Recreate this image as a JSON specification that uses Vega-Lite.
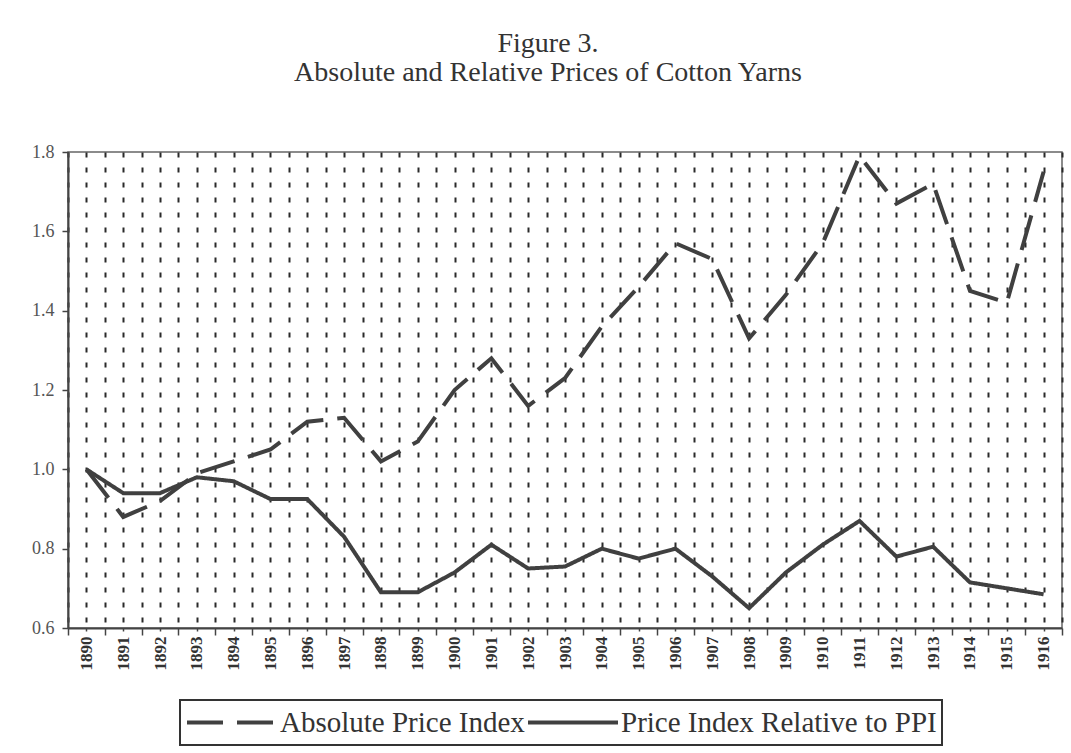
{
  "$schema": "https://vega.github.io/schema/vega-lite/v6.json",
  "width": 994,
  "height": 476,
  "autosize": {"type": "none"},
  "padding": {"left": 68, "top": 152, "right": 9, "bottom": 125},
  "background": "white",
  "title": {
    "text": ["Figure 3.", "Absolute and Relative Prices of Cotton Yarns"],
    "font": "Liberation Serif",
    "fontSize": 28,
    "fontWeight": "normal",
    "color": "#333333",
    "lineHeight": 29,
    "offset": 56,
    "anchor": "middle",
    "dx": -17
  },
  "data": {
    "values": [
      {"year": 1890, "series": "Absolute Price Index", "value": 1.00},
      {"year": 1891, "series": "Absolute Price Index", "value": 0.88},
      {"year": 1892, "series": "Absolute Price Index", "value": 0.92},
      {"year": 1893, "series": "Absolute Price Index", "value": 0.99},
      {"year": 1894, "series": "Absolute Price Index", "value": 1.02},
      {"year": 1895, "series": "Absolute Price Index", "value": 1.05},
      {"year": 1896, "series": "Absolute Price Index", "value": 1.12},
      {"year": 1897, "series": "Absolute Price Index", "value": 1.13},
      {"year": 1898, "series": "Absolute Price Index", "value": 1.02},
      {"year": 1899, "series": "Absolute Price Index", "value": 1.07},
      {"year": 1900, "series": "Absolute Price Index", "value": 1.20},
      {"year": 1901, "series": "Absolute Price Index", "value": 1.28},
      {"year": 1902, "series": "Absolute Price Index", "value": 1.16},
      {"year": 1903, "series": "Absolute Price Index", "value": 1.23},
      {"year": 1904, "series": "Absolute Price Index", "value": 1.36},
      {"year": 1905, "series": "Absolute Price Index", "value": 1.46},
      {"year": 1906, "series": "Absolute Price Index", "value": 1.57},
      {"year": 1907, "series": "Absolute Price Index", "value": 1.53},
      {"year": 1908, "series": "Absolute Price Index", "value": 1.33},
      {"year": 1909, "series": "Absolute Price Index", "value": 1.44},
      {"year": 1910, "series": "Absolute Price Index", "value": 1.57},
      {"year": 1911, "series": "Absolute Price Index", "value": 1.79},
      {"year": 1912, "series": "Absolute Price Index", "value": 1.67},
      {"year": 1913, "series": "Absolute Price Index", "value": 1.72},
      {"year": 1914, "series": "Absolute Price Index", "value": 1.45},
      {"year": 1915, "series": "Absolute Price Index", "value": 1.42},
      {"year": 1916, "series": "Absolute Price Index", "value": 1.75},
      {"year": 1890, "series": "Price Index Relative to PPI", "value": 1.00},
      {"year": 1891, "series": "Price Index Relative to PPI", "value": 0.94},
      {"year": 1892, "series": "Price Index Relative to PPI", "value": 0.94},
      {"year": 1893, "series": "Price Index Relative to PPI", "value": 0.98},
      {"year": 1894, "series": "Price Index Relative to PPI", "value": 0.97},
      {"year": 1895, "series": "Price Index Relative to PPI", "value": 0.925},
      {"year": 1896, "series": "Price Index Relative to PPI", "value": 0.925},
      {"year": 1897, "series": "Price Index Relative to PPI", "value": 0.83},
      {"year": 1898, "series": "Price Index Relative to PPI", "value": 0.69},
      {"year": 1899, "series": "Price Index Relative to PPI", "value": 0.69},
      {"year": 1900, "series": "Price Index Relative to PPI", "value": 0.74},
      {"year": 1901, "series": "Price Index Relative to PPI", "value": 0.81},
      {"year": 1902, "series": "Price Index Relative to PPI", "value": 0.75},
      {"year": 1903, "series": "Price Index Relative to PPI", "value": 0.755},
      {"year": 1904, "series": "Price Index Relative to PPI", "value": 0.80},
      {"year": 1905, "series": "Price Index Relative to PPI", "value": 0.775},
      {"year": 1906, "series": "Price Index Relative to PPI", "value": 0.80},
      {"year": 1907, "series": "Price Index Relative to PPI", "value": 0.73},
      {"year": 1908, "series": "Price Index Relative to PPI", "value": 0.65},
      {"year": 1909, "series": "Price Index Relative to PPI", "value": 0.74},
      {"year": 1910, "series": "Price Index Relative to PPI", "value": 0.81},
      {"year": 1911, "series": "Price Index Relative to PPI", "value": 0.87},
      {"year": 1912, "series": "Price Index Relative to PPI", "value": 0.78},
      {"year": 1913, "series": "Price Index Relative to PPI", "value": 0.805},
      {"year": 1914, "series": "Price Index Relative to PPI", "value": 0.715},
      {"year": 1915, "series": "Price Index Relative to PPI", "value": 0.70},
      {"year": 1916, "series": "Price Index Relative to PPI", "value": 0.685}
    ]
  },
  "mark": {"type": "line", "strokeWidth": 4, "color": "#404040", "strokeJoin": "miter"},
  "encoding": {
    "x": {
      "field": "year",
      "type": "quantitative",
      "scale": {"domain": [1889.5, 1916.5], "nice": false, "zero": false},
      "axis": {
        "title": null,
        "values": [1889.5, 1890, 1890.5, 1891, 1891.5, 1892, 1892.5, 1893, 1893.5, 1894, 1894.5, 1895, 1895.5, 1896, 1896.5, 1897, 1897.5, 1898, 1898.5, 1899, 1899.5, 1900, 1900.5, 1901, 1901.5, 1902, 1902.5, 1903, 1903.5, 1904, 1904.5, 1905, 1905.5, 1906, 1906.5, 1907, 1907.5, 1908, 1908.5, 1909, 1909.5, 1910, 1910.5, 1911, 1911.5, 1912, 1912.5, 1913, 1913.5, 1914, 1914.5, 1915, 1915.5, 1916, 1916.5],
        "labelExpr": "datum.value % 1 === 0 ? '' + datum.value : ''",
        "labelAngle": -90,
        "labelFont": "Liberation Serif",
        "labelFontSize": 17,
        "labelFontWeight": "bold",
        "labelColor": "#333333",
        "labelPadding": 5,
        "labelOverlap": false,
        "labelFlush": false,
        "grid": true,
        "gridColor": "#2a2a2a",
        "gridDash": [5, 10],
        "gridWidth": 2,
        "domainColor": "#444444",
        "domainWidth": 2,
        "tickColor": "#444444",
        "tickWidth": 1.5,
        "tickSize": {"condition": {"test": "datum.value % 1 !== 0", "value": 7}, "value": 3}
      }
    },
    "y": {
      "field": "value",
      "type": "quantitative",
      "scale": {"domain": [0.6, 1.8], "nice": false, "zero": false},
      "axis": {
        "title": null,
        "values": [0.6, 0.8, 1.0, 1.2, 1.4, 1.6, 1.8],
        "format": ".1f",
        "grid": false,
        "labelFont": "Liberation Serif",
        "labelFontSize": 18,
        "labelColor": "#555555",
        "labelPadding": 8,
        "tickSize": 6,
        "tickColor": "#444444",
        "tickWidth": 1.5,
        "domainColor": "#444444",
        "domainWidth": 2
      }
    },
    "strokeDash": {
      "field": "series",
      "type": "nominal",
      "scale": {
        "domain": ["Absolute Price Index", "Price Index Relative to PPI"],
        "range": [[36, 14], [1, 0]]
      },
      "legend": {
        "title": null,
        "orient": "none",
        "legendX": 112,
        "legendY": 548,
        "direction": "horizontal",
        "symbolType": "stroke",
        "symbolSize": 8100,
        "symbolStrokeWidth": 4,
        "symbolStrokeColor": "#404040",
        "clipHeight": 35,
        "labelFont": "Liberation Serif",
        "labelFontSize": 29,
        "labelColor": "#333333",
        "labelOffset": 1,
        "labelLimit": 0,
        "columnPadding": 1,
        "padding": 5,
        "strokeColor": "#333333"
      }
    }
  },
  "config": {
    "view": {"stroke": "#666666", "strokeWidth": 1.5},
    "legend": {"strokeWidth": 2}
  }
}
